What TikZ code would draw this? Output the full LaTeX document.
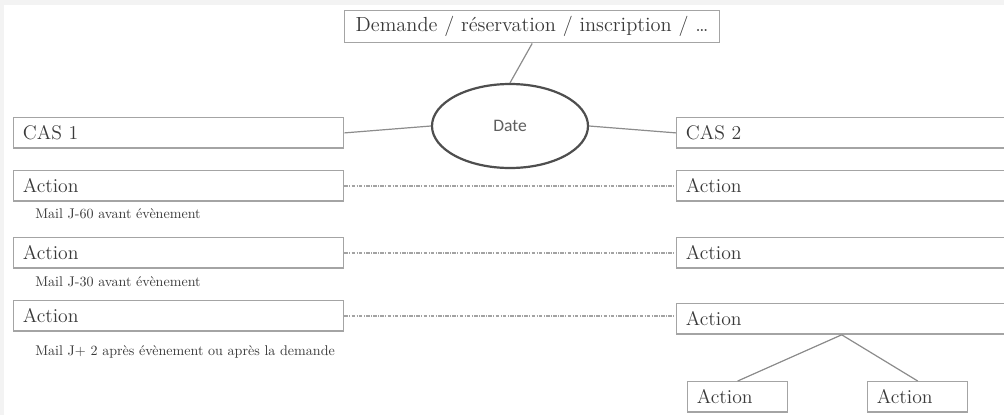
\documentclass[tikz,border=0pt]{standalone}
\usepackage{fontspec}
\newfontfamily\datefont{Carlito}
\usetikzlibrary{shapes.geometric}

\definecolor{frame}{HTML}{F3F3F3}
\definecolor{boxline}{HTML}{A4A4A4}
\definecolor{linkline}{HTML}{8C8C8C}
\definecolor{ink}{HTML}{3A3A3A}
\definecolor{dateink}{HTML}{5F5F5F}

\tikzset{
  box/.style={draw=boxline, line width=0.35mm, text=ink, inner xsep=2.3mm, inner ysep=0pt,
    text width=82.5mm-4.6mm, minimum height=7.6mm, align=left, anchor=north west,
    font=\fontsize{14}{16}\selectfont},
  smallbox/.style={box, text width=25mm-4.6mm},
  datebubble/.style={ellipse, draw=ink!90, line width=0.55mm, minimum width=39mm,
    minimum height=21mm, inner sep=0pt, text=dateink, font=\datefont\fontsize{12.5}{14}\selectfont},
  note/.style={anchor=west, text=ink, inner sep=0pt, font=\fontsize{10}{12}\selectfont},
  link/.style={draw=linkline, line width=0.3mm},
  dotlink/.style={draw=linkline!80, line width=0.3mm, dash pattern=on 0.9mm off 0.35mm on 0.2mm off 0.35mm}
}

\begin{document}
\begin{tikzpicture}[x=0.25mm, y=-0.25mm]
\useasboundingbox (0,0) rectangle (1004,415);
\clip (0,0) rectangle (1004,415);
\fill[frame] (0,0) rectangle (1004,415);
\fill[white] (4,5) rectangle (1004,415);

% haut
\node[box, text width=93.75mm-5.5mm, inner xsep=2.75mm, minimum height=8mm, font=\fontsize{14.5}{16}\selectfont] (req) at (344,10) {Demande / réservation / inscription / \dots};
\node[datebubble] (date) at (510,126) {Date};

% colonne gauche
\node[box] (cas1) at (13,117) {CAS 1};
\node[box] (a1l) at (13,170) {Action};
\node[box] (a2l) at (13,237) {Action};
\node[box] (a3l) at (13,300) {Action};

\node[note] (note1) at (35,214) {Mail J-60 avant évènement};
\node[note] (note2) at (35,282) {Mail J-30 avant évènement};
\node[note] (note3) at (35,352) {Mail J+ 2 après évènement ou après la demande};

% colonne droite
\node[box] (cas2) at (676,117) {CAS 2};
\node[box] (a1r) at (676,170) {Action};
\node[box] (a2r) at (676,237) {Action};
\node[box] (a3r) at (676,303) {Action};
\node[smallbox] (b1) at (687,381) {Action};
\node[smallbox] (b2) at (867,381) {Action};

% liens
\draw[link] (req.south) -- (date.north);
\draw[link] (cas1.east) -- (date.west);
\draw[link] (date.east) -- (cas2.west);
\draw[link] (a3r.south) -- (b1.north);
\draw[link] (a3r.south) -- (b2.north);

\draw[dotlink] (a1l.east) -- (a1l.east -| a1r.west);
\draw[dotlink] (a2l.east) -- (a2l.east -| a2r.west);
\draw[dotlink] (a3l.east) -- (a3l.east -| a3r.west);

\end{tikzpicture}
\end{document}
